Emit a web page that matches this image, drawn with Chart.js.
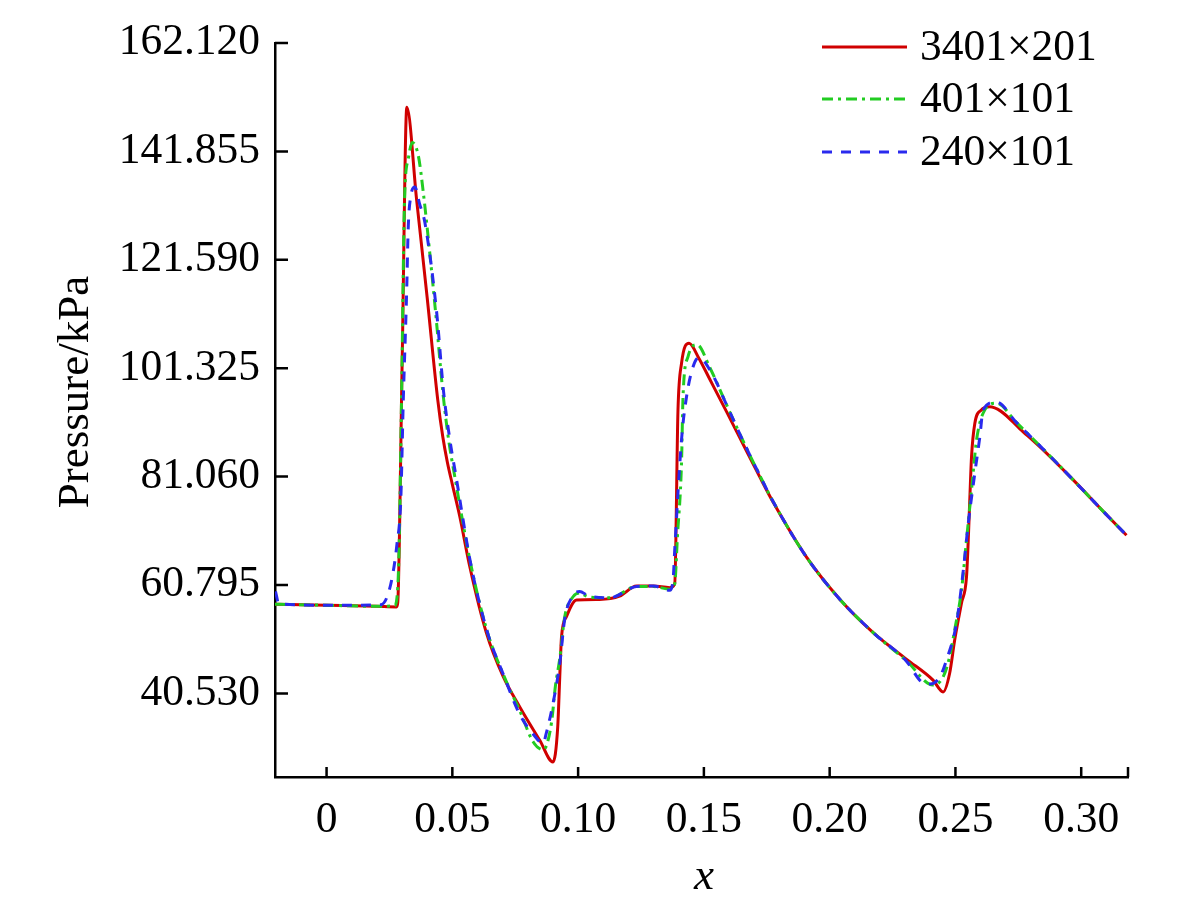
<!DOCTYPE html>
<html>
<head>
<meta charset="utf-8">
<title>Pressure distribution</title>
<script src="https://cdn.jsdelivr.net/npm/chart.js@4.4.1/dist/chart.umd.min.js"></script>
<style>
  html, body { margin: 0; padding: 0; background: #fff; }
  #wrap { position: relative; width: 1181px; height: 903px; }
</style>
</head>
<body>
<div id="wrap"><canvas id="pChart"></canvas></div>
<script>
// ============================================
// DADOS
// ============================================

const xTicks = [0, 0.05, 0.10, 0.15, 0.20, 0.25, 0.30];
const yTicks = [40.530, 60.795, 81.060, 101.325, 121.590, 141.855, 162.120];
const xRange = [-0.0205, 0.3186];
const yRange = [24.9, 162.12];

const seriesLabels = ['3401\u00d7201', '401\u00d7101', '240\u00d7101'];

// 3401x201
const redX = [-0.0205, 0.000, 0.020, 0.0278, 0.0283, 0.0300, 0.0319, 0.0358, 0.0400, 0.0442,
  0.0462, 0.0480, 0.0500, 0.0530, 0.0569, 0.0635, 0.0701, 0.0768, 0.0847, 0.0900,
  0.0919, 0.0927, 0.0934, 0.0954, 0.0994, 0.1085, 0.1165, 0.1232, 0.1300, 0.1364,
  0.1384, 0.1397, 0.1411, 0.1441, 0.1480, 0.1523, 0.1590, 0.1643, 0.1722, 0.1775,
  0.1908, 0.2041, 0.2173, 0.2306, 0.2411, 0.2451, 0.2477, 0.2497, 0.2524, 0.2544,
  0.2551, 0.2557, 0.2564, 0.2577, 0.2603, 0.2636, 0.2680, 0.2756, 0.2836, 0.2969,
  0.3101, 0.3180];
const redY = [57.2, 57.0, 56.8, 56.7, 57.5, 101.0, 150.1, 132.8, 114.5, 95.4,
  88.5, 83.8, 79.6, 73.5, 64.3, 51.9, 43.8, 38.0, 31.8, 27.7,
  34.3, 43.6, 51.1, 54.9, 58.0, 58.1, 58.7, 60.6, 60.6, 60.3,
  61.0, 93.5, 102.2, 106.0, 103.2, 99.3, 93.2, 88.3, 81.0, 76.3,
  66.0, 58.1, 51.9, 46.9, 43.0, 40.8, 44.3, 50.5, 57.4, 62.3,
  69.2, 76.7, 84.8, 91.0, 93.5, 94.1, 93.3, 90.0, 86.6, 80.4,
  73.9, 70.1];

// 401x101
const greenX = [-0.0205, 0.000, 0.020, 0.0270, 0.0280, 0.0288, 0.0298, 0.0310, 0.0325, 0.0341,
  0.0365, 0.0385, 0.0410, 0.0435, 0.0462, 0.0485, 0.0510, 0.0575, 0.0640, 0.0705,
  0.0768, 0.0821, 0.0862, 0.0894, 0.0910, 0.0927, 0.0947, 0.0980, 0.1006, 0.1040,
  0.1126, 0.1232, 0.1300, 0.1364, 0.1384, 0.1395, 0.1411, 0.1417, 0.1437, 0.1473,
  0.1523, 0.1590, 0.1643, 0.1722, 0.1775, 0.1908, 0.2041, 0.2173, 0.2306, 0.2411,
  0.2451, 0.2477, 0.2497, 0.2524, 0.2544, 0.2564, 0.2584, 0.2610, 0.2663, 0.2742,
  0.2836, 0.2969, 0.3101, 0.3180];
const greenY = [57.2, 57.0, 56.8, 56.9, 58.5, 67.0, 95.4, 132.8, 140.5, 143.5,
  141.0, 134.0, 123.0, 111.0, 97.0, 88.0, 81.0, 64.3, 51.9, 43.8,
  37.3, 31.5, 30.0, 35.0, 42.0, 47.0, 54.9, 58.6, 59.3, 58.6,
  58.4, 60.5, 60.5, 60.0, 61.0, 70.0, 83.5, 96.0, 103.5, 105.7,
  101.5, 94.5, 89.0, 81.3, 76.4, 66.0, 58.1, 51.9, 46.6, 42.1,
  43.6, 47.4, 52.4, 59.8, 69.2, 78.6, 87.9, 92.9, 94.8, 91.2,
  86.8, 80.4, 73.9, 70.1];

// 240x101
const blueX = [-0.0203, -0.0190, 0.000, 0.0215, 0.0240, 0.0262, 0.0280, 0.0295, 0.0305, 0.0318,
  0.0325, 0.0335, 0.0351, 0.0370, 0.0391, 0.0438, 0.0465, 0.0490, 0.0515, 0.0575,
  0.0640, 0.0705, 0.0768, 0.0820, 0.0861, 0.0873, 0.0900, 0.0927, 0.0947, 0.0980,
  0.1006, 0.1040, 0.1126, 0.1232, 0.1300, 0.1364, 0.1378, 0.1384, 0.1411, 0.1431,
  0.1457, 0.1480, 0.1530, 0.1590, 0.1643, 0.1722, 0.1775, 0.1908, 0.2041, 0.2173,
  0.2306, 0.2365, 0.2400, 0.2438, 0.2464, 0.2504, 0.2530, 0.2551, 0.2577, 0.2597,
  0.2610, 0.2663, 0.2742, 0.2836, 0.2969, 0.3101, 0.3180];
const blueY = [59.6, 57.3, 57.0, 57.1, 58.5, 62.5, 68.5, 76.7, 95.4, 115.0,
  128.0, 133.5, 135.2, 132.0, 128.5, 111.6, 97.0, 88.0, 81.0, 64.3,
  51.9, 43.8, 36.6, 33.0, 31.2, 33.0, 38.6, 46.1, 54.5, 58.8,
  59.6, 58.8, 58.4, 60.5, 60.6, 59.8, 62.0, 67.3, 87.9, 96.0,
  101.6, 103.3, 100.5, 94.5, 89.0, 81.3, 76.4, 66.0, 58.1, 51.9,
  46.5, 42.7, 42.3, 43.6, 46.7, 53.6, 63.0, 72.3, 81.7, 88.5,
  93.5, 95.0, 91.2, 86.8, 80.4, 73.9, 70.1];

// ============================================
// ESTILO
// ============================================

const SERIF = "'Liberation Serif', 'Times New Roman', serif";
Chart.defaults.font.family = SERIF;
Chart.defaults.color = '#000';

const zip = (xs, ys) => xs.map((x, i) => ({ x, y: ys[i] }));

// ticks para dentro, como no original
const inwardTicks = {
  id: 'inwardTicks',
  afterDraw(chart) {
    const { ctx, chartArea: a, scales: { x, y } } = chart;
    ctx.save();
    ctx.strokeStyle = '#000';
    ctx.lineWidth = 2.5;
    ctx.beginPath();
    [...xTicks, xRange[1]].forEach(v => {
      const px = x.getPixelForValue(v);
      ctx.moveTo(px, a.bottom);
      ctx.lineTo(px, a.bottom - 10);
    });
    yTicks.forEach(v => {
      const py = y.getPixelForValue(v);
      ctx.moveTo(a.left, py);
      ctx.lineTo(a.left + 13, py);
    });
    ctx.stroke();
    ctx.restore();
  }
};

// legenda e títulos dos eixos
const legendAndTitles = {
  id: 'legendAndTitles',
  afterDraw(chart) {
    const { ctx } = chart;
    ctx.save();
    const rows = [47, 99, 152];
    chart.data.datasets.forEach((ds, i) => {
      ctx.strokeStyle = ds.borderColor;
      ctx.lineWidth = 3;
      ctx.setLineDash(ds.borderDash || []);
      ctx.beginPath();
      ctx.moveTo(822, rows[i]);
      ctx.lineTo(907, rows[i]);
      ctx.stroke();
      ctx.setLineDash([]);
      ctx.fillStyle = '#000';
      ctx.font = `43.5px ${SERIF}`;
      ctx.textAlign = 'left';
      ctx.textBaseline = 'middle';
      ctx.fillText(ds.label, 920, rows[i] + 2);
    });

    ctx.fillStyle = '#000';
    ctx.font = `45px ${SERIF}`;
    ctx.textAlign = 'center';
    ctx.textBaseline = 'alphabetic';
    ctx.translate(88, 392);
    ctx.rotate(-Math.PI / 2);
    ctx.fillText('Pressure/kPa', 0, 0);
    ctx.setTransform(1, 0, 0, 1, 0, 0);
    ctx.scale(chart.currentDevicePixelRatio, chart.currentDevicePixelRatio);
    ctx.font = `italic 45px ${SERIF}`;
    ctx.fillText('x', 704, 889);
    ctx.restore();
  }
};

const common = {
  fill: false,
  pointRadius: 0,
  borderWidth: 3,
  cubicInterpolationMode: 'monotone',
};

new Chart(document.getElementById('pChart'), {
  type: 'line',
  data: {
    datasets: [
      { ...common, label: seriesLabels[0], data: zip(redX, redY),   borderColor: '#d00000', order: 3 },
      { ...common, label: seriesLabels[1], data: zip(greenX, greenY), borderColor: '#22cc22', borderDash: [11, 5, 3, 5], order: 2 },
      { ...common, label: seriesLabels[2], data: zip(blueX, blueY),  borderColor: '#2a2aee', borderDash: [10, 9], order: 1 },
    ],
  },
  options: {
    responsive: true,
    maintainAspectRatio: false,
    animation: false,
    layout: { padding: { top: 43, right: 53, left: 0, bottom: 0 } },
    plugins: { legend: { display: false }, tooltip: { enabled: false } },
    scales: {
      x: {
        type: 'linear',
        min: xRange[0],
        max: xRange[1],
        grid: { display: false },
        border: { display: true, color: '#000', width: 2.5 },
        afterBuildTicks: (s) => { s.ticks = xTicks.map(v => ({ value: v })); },
        afterFit: (s) => { s.height = 126; },
        ticks: {
          color: '#000',
          padding: 9,
          maxRotation: 0,
          font: { size: 43.5, family: SERIF },
          callback: (v) => v === 0 ? '0' : Number(v).toFixed(2),
        },
      },
      y: {
        type: 'linear',
        min: yRange[0],
        max: yRange[1],
        grid: { display: false },
        border: { display: true, color: '#000', width: 2.5 },
        afterBuildTicks: (s) => { s.ticks = yTicks.map(v => ({ value: v })); },
        afterFit: (s) => { s.width = 275; },
        ticks: {
          color: '#000',
          padding: 7,
          font: { size: 43.5, family: SERIF },
          callback: (v) => Number(v).toFixed(3),
        },
      },
    },
  },
  plugins: [inwardTicks, legendAndTitles],
});
</script>
</body>
</html>
